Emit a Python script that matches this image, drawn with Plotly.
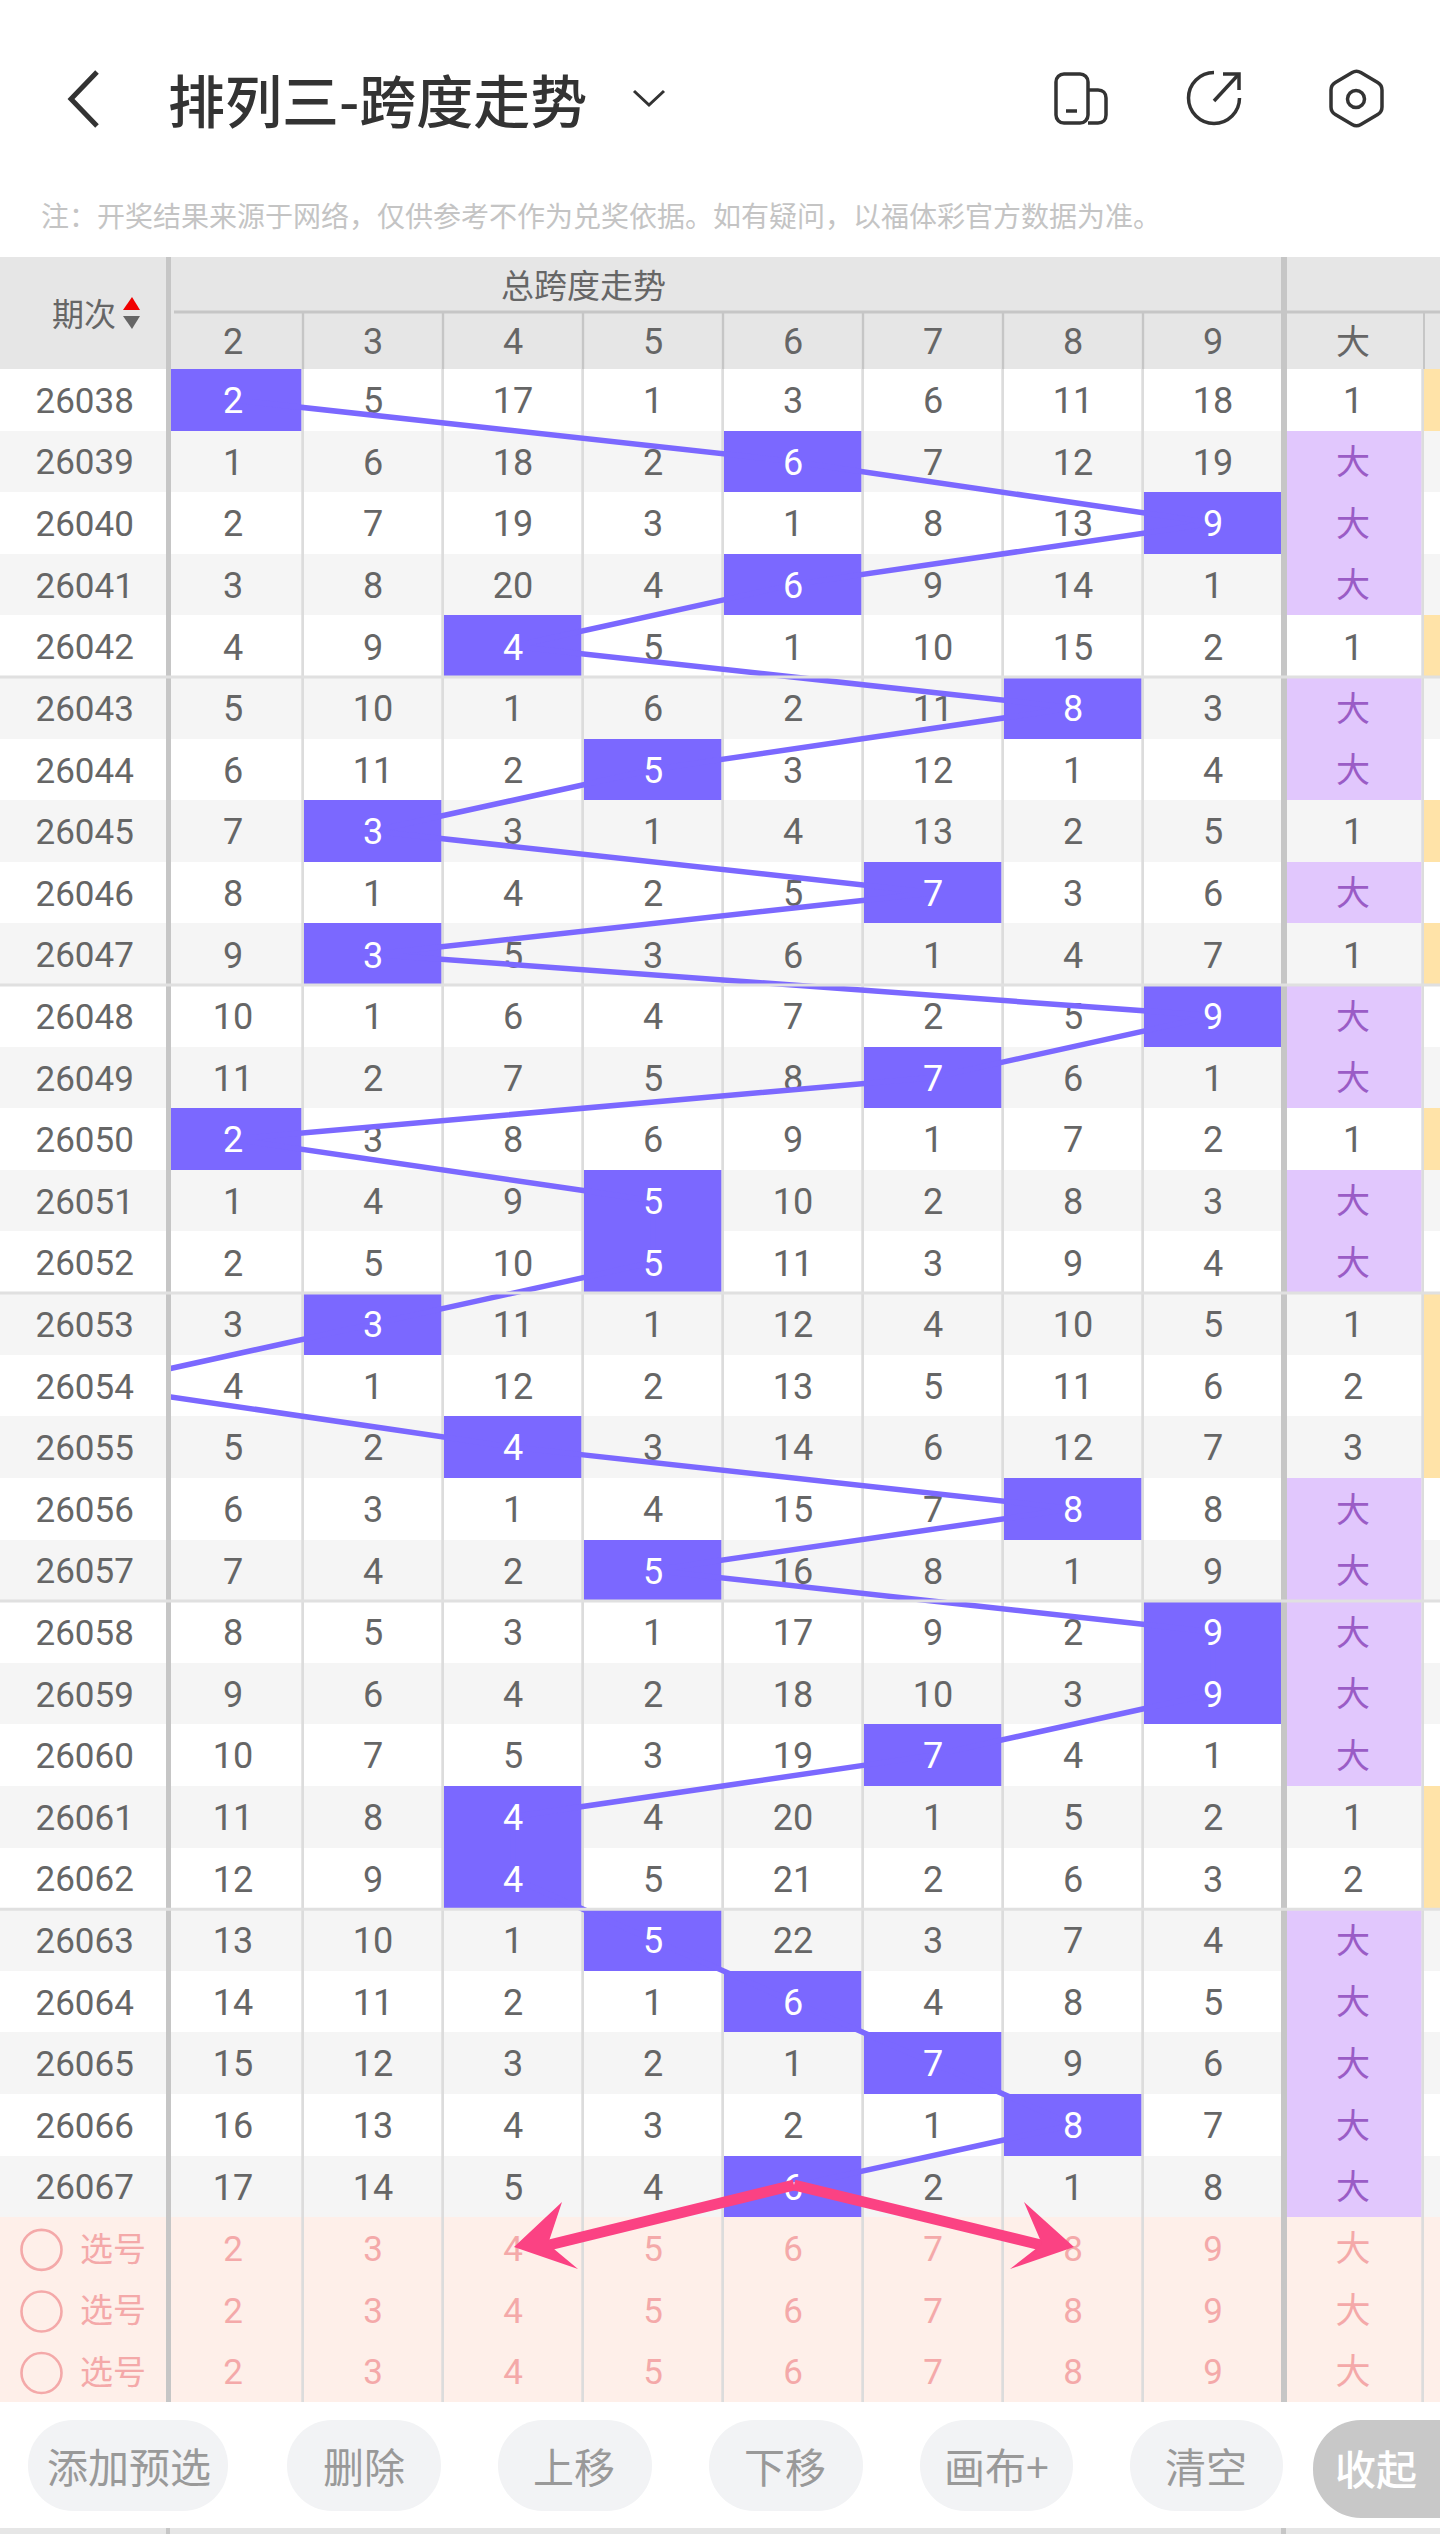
"""
plot.py

Span trend table for the "排列三" lottery: one column of omission counts per
span value, with the drawn span highlighted and joined row to row.
"""

import plotly.graph_objects as go

# -----------------------------------------------------------------------------
# Data
# -----------------------------------------------------------------------------

periods = list(range(26038, 26068))

# drawn span per period (1 sits in a column scrolled off to the left)
spans = [2, 6, 9, 6, 4, 8, 5, 3, 7, 3, 9, 7, 2, 5, 5,
         3, 1, 4, 8, 5, 9, 9, 7, 4, 4, 5, 6, 7, 8, 6]

col_2 = [2, 1, 2, 3, 4, 5, 6, 7, 8, 9, 10, 11, 2, 1, 2,
         3, 4, 5, 6, 7, 8, 9, 10, 11, 12, 13, 14, 15, 16, 17]
col_3 = [5, 6, 7, 8, 9, 10, 11, 3, 1, 3, 1, 2, 3, 4, 5,
         3, 1, 2, 3, 4, 5, 6, 7, 8, 9, 10, 11, 12, 13, 14]
col_4 = [17, 18, 19, 20, 4, 1, 2, 3, 4, 5, 6, 7, 8, 9, 10,
         11, 12, 4, 1, 2, 3, 4, 5, 4, 4, 1, 2, 3, 4, 5]
col_5 = [1, 2, 3, 4, 5, 6, 5, 1, 2, 3, 4, 5, 6, 5, 5,
         1, 2, 3, 4, 5, 1, 2, 3, 4, 5, 5, 1, 2, 3, 4]
col_6 = [3, 6, 1, 6, 1, 2, 3, 4, 5, 6, 7, 8, 9, 10, 11,
         12, 13, 14, 15, 16, 17, 18, 19, 20, 21, 22, 6, 1, 2, 6]
col_7 = [6, 7, 8, 9, 10, 11, 12, 13, 7, 1, 2, 7, 1, 2, 3,
         4, 5, 6, 7, 8, 9, 10, 7, 1, 2, 3, 4, 7, 1, 2]
col_8 = [11, 12, 13, 14, 15, 8, 1, 2, 3, 4, 5, 6, 7, 8, 9,
         10, 11, 12, 8, 1, 2, 3, 4, 5, 6, 7, 8, 9, 8, 1]
col_9 = [18, 19, 9, 1, 2, 3, 4, 5, 6, 7, 9, 1, 2, 3, 4,
         5, 6, 7, 8, 9, 9, 9, 1, 2, 3, 4, 5, 6, 7, 8]
col_big = ["1", "大", "大", "大", "1", "大", "大", "1", "大", "1", "大", "大", "1", "大", "大",
           "1", "2", "3", "大", "大", "大", "大", "大", "1", "2", "大", "大", "大", "大", "大"]

span_columns = {2: col_2, 3: col_3, 4: col_4, 5: col_5,
                6: col_6, 7: col_7, 8: col_8, 9: col_9}
column_labels = ["2", "3", "4", "5", "6", "7", "8", "9", "大"]
pick_rows = ["选号", "选号", "选号"]
buttons = ["添加预选", "删除", "上移", "下移", "画布+", "清空"]

title_text = "排列三-跨度走势"
note_text = "注：开奖结果来源于网络，仅供参考不作为兑奖依据。如有疑问，以福体彩官方数据为准。"

# -----------------------------------------------------------------------------
# Page geometry and colours
# -----------------------------------------------------------------------------

W, H = 1440, 2534
TABLE_TOP, BODY_TOP, BODY_BOTTOM = 257, 369, 2402
TEXT_NUDGE = 0.07  # text sits a little under the row centre in scatter text mode

NUM_FONT = "Roboto, 'Noto Sans CJK SC', sans-serif"
CJK_FONT = "'Noto Sans CJK SC', sans-serif"
GREY_TEXT = "#666666"
HIT = "#7B68FF"
LILAC = "#E1C7FD"
AMBER = "#FFE3A8"
PINK_BG = "#FEEFE9"
PINK_TEXT = "#F4A9A9"
HEADER_BG = "#E6E6E6"
RULE = "#C6C6C6"
ARROW = "#FB4283"
DARK = "#333333"


def px(x):
    return x / W


def py(y):
    return 1 - y / H


def pt(x, y):
    return f"{px(x):.5f},{py(y):.5f}"


def path(points, close=False):
    """SVG path in paper coordinates from page pixel points."""
    d = "M" + " L".join(pt(x, y) for x, y in points)
    return d + (" Z" if close else "")


def ellipse(cx, cy, r):
    k = 0.5523 * r
    return (
        f"M{pt(cx - r, cy)} "
        f"C{pt(cx - r, cy - k)} {pt(cx - k, cy - r)} {pt(cx, cy - r)} "
        f"C{pt(cx + k, cy - r)} {pt(cx + r, cy - k)} {pt(cx + r, cy)} "
        f"C{pt(cx + r, cy + k)} {pt(cx + k, cy + r)} {pt(cx, cy + r)} "
        f"C{pt(cx - k, cy + r)} {pt(cx - r, cy + k)} {pt(cx - r, cy)} Z"
    )


def open_ring(cx, cy, r):
    """Three quarters of a circle: from the top round the left to the right."""
    k = 0.5523 * r
    return (
        f"M{pt(cx, cy - r)} "
        f"C{pt(cx - k, cy - r)} {pt(cx - r, cy - k)} {pt(cx - r, cy)} "
        f"C{pt(cx - r, cy + k)} {pt(cx - k, cy + r)} {pt(cx, cy + r)} "
        f"C{pt(cx + k, cy + r)} {pt(cx + r, cy + k)} {pt(cx + r, cy)}"
    )


def round_poly(points, cut):
    """Closed polygon with its corners softened by a quadratic curve."""
    n = len(points)
    d = []
    for i, (x, y) in enumerate(points):
        ax, ay = points[i - 1]
        bx, by = points[(i + 1) % n]
        la = ((ax - x) ** 2 + (ay - y) ** 2) ** 0.5
        lb = ((bx - x) ** 2 + (by - y) ** 2) ** 0.5
        start = (x + (ax - x) * cut / la, y + (ay - y) * cut / la)
        end = (x + (bx - x) * cut / lb, y + (by - y) * cut / lb)
        d.append(("M" if i == 0 else "L") + pt(*start))
        d.append(f"Q{pt(x, y)} {pt(*end)}")
    return " ".join(d) + " Z"


def pill(x0, y0, x1, y1, r):
    k = 0.45 * r
    return (
        f"M{pt(x0 + r, y0)} L{pt(x1 - r, y0)} "
        f"C{pt(x1 - k, y0)} {pt(x1, y0 + k)} {pt(x1, y0 + r)} "
        f"L{pt(x1, y1 - r)} "
        f"C{pt(x1, y1 - k)} {pt(x1 - k, y1)} {pt(x1 - r, y1)} "
        f"L{pt(x0 + r, y1)} "
        f"C{pt(x0 + k, y1)} {pt(x0, y1 - k)} {pt(x0, y1 - r)} "
        f"L{pt(x0, y0 + r)} "
        f"C{pt(x0, y0 + k)} {pt(x0 + k, y0)} {pt(x0 + r, y0)} Z"
    )


def rect(x0, y0, x1, y1, color, layer="above"):
    return dict(type="rect", xref="paper", yref="paper", layer=layer,
                x0=px(x0), x1=px(x1), y0=py(y0), y1=py(y1),
                fillcolor=color, line_width=0)


def stroke(d, width, color=DARK):
    return dict(type="path", xref="paper", yref="paper", layer="above", path=d,
                line=dict(color=color, width=width))


def fill(d, color):
    return dict(type="path", xref="paper", yref="paper", layer="above", path=d,
                fillcolor=color, line_width=0)


def label(text, x, y, size, color, family=CJK_FONT, xref="paper", weight=None):
    font = dict(family=family, size=size, color=color)
    if weight:
        font["weight"] = weight
    return dict(text=text, x=x, y=py(y), xref=xref, yref="paper",
                showarrow=False, xanchor="center", yanchor="middle", font=font)


# -----------------------------------------------------------------------------
# Traces
# -----------------------------------------------------------------------------

row_ids = list(range(len(periods) + len(pick_rows)))
data_ids = row_ids[:len(periods)]
pick_ids = row_ids[len(periods):]
grid_x = list(span_columns) + [10, 11]

# zebra rows, pink pick rows
band = [1 if r in pick_ids else 0.5 if r % 2 else 0 for r in row_ids]
band_scale = [[0, "#FFFFFF"], [0.25, "#FFFFFF"], [0.25, "#F5F5F5"], [0.75, "#F5F5F5"],
              [0.75, PINK_BG], [1, PINK_BG]]

fig = go.Figure()
fig.add_trace(go.Heatmap(
    x=[0.5], y=row_ids, z=[[b] for b in band], xaxis="x", yaxis="y",
    colorscale=band_scale, zmin=0, zmax=1, showscale=False, hoverinfo="skip",
))
fig.add_trace(go.Heatmap(
    x=grid_x, y=row_ids, z=[[b] * len(grid_x) for b in band], xaxis="x2", yaxis="y",
    colorscale=band_scale, zmin=0, zmax=1, showscale=False, hoverinfo="skip", xgap=2.7,
))

# highlighted cells: drawn span, 大 flag, the amber flag next to it
flags = []
for r, row_span in enumerate(spans):
    cells = [1 if c == row_span else None for c in span_columns]
    cells += [2, None] if col_big[r] == "大" else [None, 3]
    flags.append(cells)
fig.add_trace(go.Heatmap(
    x=grid_x, y=data_ids, z=flags, xaxis="x2", yaxis="y",
    colorscale=[[0, HIT], [0.25, HIT], [0.25, LILAC], [0.75, LILAC], [0.75, AMBER], [1, AMBER]],
    zmin=1, zmax=3, showscale=False, hoverinfo="skip", xgap=2.7,
))

# omission counts
miss_x, miss_y, miss_text = [], [], []
for c, values in span_columns.items():
    for r, v in enumerate(values):
        if spans[r] != c:
            miss_x.append(c)
            miss_y.append(r + TEXT_NUDGE)
            miss_text.append(str(v))
fig.add_trace(go.Scatter(
    x=miss_x, y=miss_y, text=miss_text, mode="text", xaxis="x2", yaxis="y",
    textfont=dict(family=NUM_FONT, size=36, color=GREY_TEXT), hoverinfo="skip",
))

# span trend line, then the numbers in the highlighted cells on top
fig.add_trace(go.Scatter(
    x=spans, y=data_ids, mode="lines", xaxis="x2", yaxis="y",
    line=dict(color=HIT, width=5.5), hoverinfo="skip",
))
hit_rows = [r for r, s in enumerate(spans) if s in span_columns]
fig.add_trace(go.Scatter(
    x=[spans[r] for r in hit_rows], y=[r + TEXT_NUDGE for r in hit_rows],
    text=[str(spans[r]) for r in hit_rows],
    mode="text", xaxis="x2", yaxis="y",
    textfont=dict(family=NUM_FONT, size=36, color="#FFFFFF"), hoverinfo="skip",
))

# 大 column
big_rows = [r for r, v in enumerate(col_big) if v == "大"]
num_rows = [r for r, v in enumerate(col_big) if v != "大"]
fig.add_trace(go.Scatter(
    x=[10] * len(big_rows), y=[r + TEXT_NUDGE for r in big_rows], text=[col_big[r] for r in big_rows],
    mode="text", xaxis="x2", yaxis="y",
    textfont=dict(family=CJK_FONT, size=34, color="#9A5CC6"), hoverinfo="skip",
))
fig.add_trace(go.Scatter(
    x=[10] * len(num_rows), y=[r + TEXT_NUDGE for r in num_rows], text=[col_big[r] for r in num_rows],
    mode="text", xaxis="x2", yaxis="y",
    textfont=dict(family=NUM_FONT, size=36, color=GREY_TEXT), hoverinfo="skip",
))

# pick rows
pick_x = [c for c in list(span_columns) + [10] for _ in pick_ids]
pick_y = [r + TEXT_NUDGE for _ in column_labels for r in pick_ids]
pick_text = [name for name in column_labels for _ in pick_ids]
fig.add_trace(go.Scatter(
    x=pick_x, y=pick_y, text=pick_text,
    mode="text", xaxis="x2", yaxis="y",
    textfont=dict(family=NUM_FONT, size=35, color=PINK_TEXT), hoverinfo="skip",
))

# period column
fig.add_trace(go.Scatter(
    x=[0.51] * len(periods), y=[r + TEXT_NUDGE for r in data_ids], text=[str(p) for p in periods],
    mode="text", xaxis="x", yaxis="y",
    textfont=dict(family=NUM_FONT, size=35, color=GREY_TEXT), hoverinfo="skip",
))
fig.add_trace(go.Scatter(
    x=[0.68] * len(pick_ids), y=[r + TEXT_NUDGE for r in pick_ids], text=pick_rows,
    mode="text", xaxis="x", yaxis="y",
    textfont=dict(family=CJK_FONT, size=33, color=PINK_TEXT), hoverinfo="skip",
))
fig.add_trace(go.Scatter(
    x=[0.25] * len(pick_ids), y=[r + 0.03 for r in pick_ids], mode="markers", xaxis="x", yaxis="y",
    marker=dict(symbol="circle-open", size=40, color=PINK_TEXT, line=dict(width=2.6, color=PINK_TEXT)),
    hoverinfo="skip",
))

# -----------------------------------------------------------------------------
# Page furniture
# -----------------------------------------------------------------------------

shapes = [
    rect(0, TABLE_TOP, W, BODY_TOP, HEADER_BG, layer="below"),
    rect(174, 310.5, W, 313.5, RULE),
    rect(0, 2528, W, H, HEADER_BG),
    rect(166, 2528, 170, H, RULE),
    rect(1281, 2528, 1286, H, RULE),
    rect(166, TABLE_TOP, 171, BODY_BOTTOM, RULE),
    rect(1281, TABLE_TOP, 1287, BODY_BOTTOM, RULE),
    rect(1423, 313, 1425, BODY_TOP, RULE),
]
for edge in (303, 443, 583, 723, 863, 1003, 1143):
    shapes.append(rect(edge - 1.2, 313, edge + 1.2, BODY_TOP, RULE))

# rule under every fifth period
for r in (4.5, 9.5, 14.5, 19.5, 24.5):
    shapes.append(dict(type="line", xref="paper", yref="y", layer="above",
                       x0=0, x1=1, y0=r, y1=r, line=dict(color="#E0E0E0", width=3)))

# sort arrows next to 期次
shapes.append(fill(path([(132, 297), (140, 310), (123, 310)], close=True), "#F00000"))
shapes.append(fill(path([(123, 316), (140, 316), (132, 329)], close=True), GREY_TEXT))

# top bar icons
shapes += [
    stroke(path([(97, 72), (71, 99), (97, 126)]), 5),
    stroke(path([(634, 91), (649, 105), (664, 91)]), 3),
    stroke(pill(1056, 74, 1088, 123, 8), 3.5),
    stroke(f"M{pt(1088, 90)} L{pt(1098, 90)} C{pt(1103, 90)} {pt(1106, 93)} {pt(1106, 98)} "
           f"L{pt(1106, 115)} C{pt(1106, 120)} {pt(1103, 123)} {pt(1098, 123)} L{pt(1088, 123)}", 3.5),
    stroke(path([(1066, 111), (1077, 111)]), 3.5),
    stroke(open_ring(1214, 98, 25.5), 3.5),
    stroke(path([(1214, 101), (1238, 75)]), 3.5),
    stroke(path([(1223, 74), (1239, 74), (1239, 90)]), 3.5),
    stroke(round_poly([(1356.5, 70), (1382, 85), (1382, 112), (1356.5, 127), (1331, 112), (1331, 85)], 5), 3.5),
    stroke(ellipse(1356, 99, 8.5), 3.5),
]

# bottom buttons
button_boxes = [(28, 228), (287, 441), (498, 652), (709, 863), (920, 1073), (1130, 1283)]
for x0, x1 in button_boxes:
    shapes.append(fill(pill(x0, 2420, x1, 2511, 45), "#F2F3F5"))
shapes.append(fill(pill(1313, 2420, 1500, 2518, 48), "#C8C8C8"))

# pink hand-drawn arrows
apex = (794, 2185)
shapes.append(stroke(path([apex, (545, 2246)]), 11, ARROW))
shapes.append(stroke(path([apex, (1045, 2246)]), 11, ARROW))
shapes.append(fill(path([(514, 2247), (562, 2202), (548, 2244), (578, 2269)], close=True), ARROW))
shapes.append(fill(path([(1074, 2247), (1024, 2202), (1042, 2244), (1010, 2269)], close=True), ARROW))

annotations = [
    label(title_text, px(377), 98, 57, DARK, weight=500),
    label(note_text, px(601), 215, 28, "#C4C4C4"),
    label("总跨度走势", px(583), 284, 33, GREY_TEXT),
    label("期次", px(84), 312, 32, GREY_TEXT),
    label("收起", px(1376), 2467, 41, "#FFFFFF", weight=500),
]
for name, center in zip(buttons, (129, 364, 574, 785, 996, 1206)):
    annotations.append(label(name, px(center), 2465, 41, "#999999"))

for name, c in zip(column_labels, list(span_columns) + [10]):
    annotations.append(label(name, c, 342, 36 if name != "大" else 34, GREY_TEXT,
                             family=NUM_FONT, xref="x2"))

# x2 is placed so that each span column is 140 px wide with 2 centred at 233 px
span_left = 2 + (171 - 233) / 140
span_right = 2 + (W - 233) / 140

fig.update_layout(
    width=W,
    height=H,
    margin=dict(l=0, r=0, t=0, b=0),
    paper_bgcolor="#FFFFFF",
    plot_bgcolor="#DCDCDC",
    showlegend=False,
    xaxis=dict(domain=[0, px(166)], range=[0, 1], visible=False, fixedrange=True),
    xaxis2=dict(domain=[px(171), 1], range=[span_left, span_right], visible=False,
                fixedrange=True, anchor="y"),
    yaxis=dict(domain=[py(BODY_BOTTOM), py(BODY_TOP)], range=[32.5, -0.5], visible=False,
               fixedrange=True),
    shapes=shapes,
    annotations=annotations,
)

fig.write_html("out.html", config={"displayModeBar": False},
               post_script="document.body.style.margin='0';")
